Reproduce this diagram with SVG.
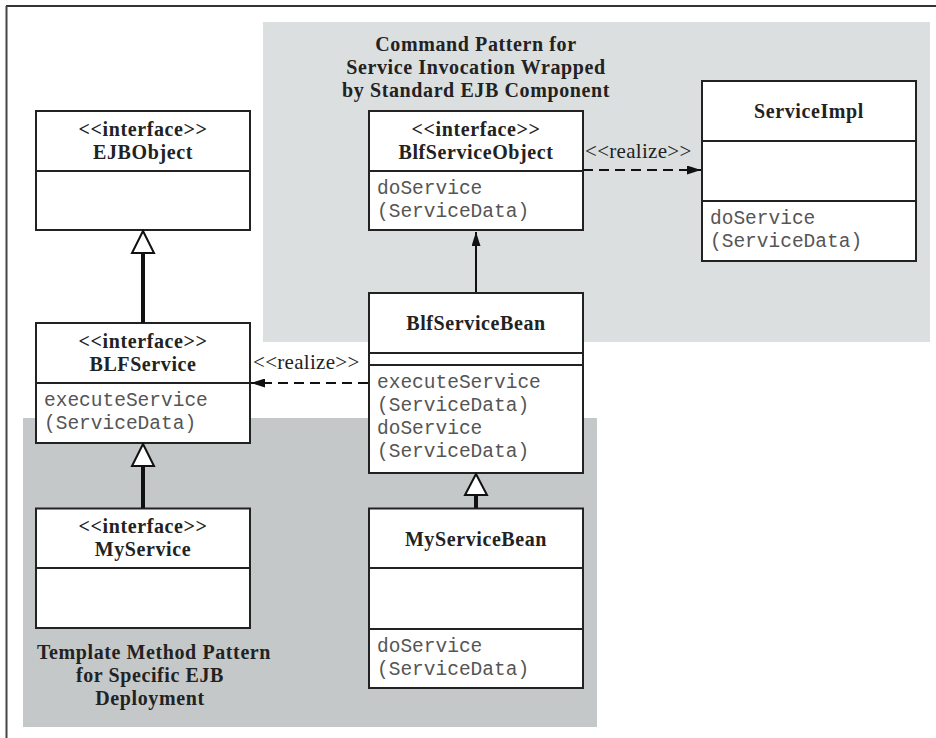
<svg xmlns="http://www.w3.org/2000/svg" width="936" height="738" viewBox="0 0 936 738">
<defs>
<style>
.box{fill:#fff;stroke:#222;stroke-width:2}
.div{stroke:#222;stroke-width:2}
.b{font-family:"Liberation Serif","Times New Roman",serif;font-weight:bold;font-size:20px;letter-spacing:0.6px;fill:#222;text-anchor:middle}
.m{font-family:"Liberation Mono","Courier New",monospace;font-size:19.5px;fill:#555}
.lbl{font-family:"Liberation Serif","Times New Roman",serif;font-size:21px;letter-spacing:0.3px;fill:#222}
.dash{stroke:#111;stroke-width:2.2;stroke-dasharray:10 6;fill:none}
.solid{stroke:#111;stroke-width:2;fill:none}
.thick{stroke:#111;stroke-width:4;fill:none}
.tri{fill:#fff;stroke:#111;stroke-width:2}
</style>
<marker id="ah" viewBox="0 0 14 9" refX="14" refY="4.5" markerWidth="14" markerHeight="9" markerUnits="userSpaceOnUse" orient="auto">
<path d="M0,0 L14,4.5 L0,9 Z" fill="#111"/>
</marker>
</defs>
<rect width="936" height="738" fill="#fff"/>
<g id="frame">
<line x1="6" y1="6" x2="936" y2="6" stroke="#333" stroke-width="2"/>
<line x1="6.5" y1="6" x2="6.5" y2="738" stroke="#444" stroke-width="2"/>
</g>
<g id="region-command">
<rect x="263" y="22" width="667" height="320" fill="#dcdfe0"/>
<text class="b" x="476" y="51">Command Pattern for</text>
<text class="b" x="476" y="74">Service Invocation Wrapped</text>
<text class="b" x="476" y="97">by Standard EJB Component</text>
</g>
<g id="region-template">
<rect x="23" y="418" width="574" height="309" fill="#c5c8c9"/>
<text class="b" x="154" y="659">Template Method Pattern</text>
<text class="b" x="150" y="682">for Specific EJB</text>
<text class="b" x="150" y="705">Deployment</text>
</g>
<g id="EJBObject">
<rect class="box" x="36" y="111" width="214" height="119"/>
<line class="div" x1="36" y1="171" x2="250" y2="171"/>
<text class="b" x="143" y="136">&lt;&lt;interface&gt;&gt;</text>
<text class="b" x="143" y="159">EJBObject</text>
</g>
<g id="BlfServiceObject">
<rect class="box" x="369" y="111" width="214" height="119"/>
<line class="div" x1="369" y1="171" x2="583" y2="171"/>
<text class="b" x="476" y="136">&lt;&lt;interface&gt;&gt;</text>
<text class="b" x="476" y="159">BlfServiceObject</text>
<text class="m" x="377" y="194">doService</text>
<text class="m" x="377" y="217">(ServiceData)</text>
</g>
<g id="ServiceImpl">
<rect class="box" x="702" y="81" width="214" height="180"/>
<line class="div" x1="702" y1="141" x2="916" y2="141"/>
<line class="div" x1="702" y1="201" x2="916" y2="201"/>
<text class="b" x="809" y="118">ServiceImpl</text>
<text class="m" x="710" y="224">doService</text>
<text class="m" x="710" y="247">(ServiceData)</text>
</g>
<g id="BLFService">
<rect class="box" x="36" y="323" width="214" height="120"/>
<line class="div" x1="36" y1="383" x2="250" y2="383"/>
<text class="b" x="143" y="348">&lt;&lt;interface&gt;&gt;</text>
<text class="b" x="143" y="371">BLFService</text>
<text class="m" x="44" y="406">executeService</text>
<text class="m" x="44" y="429">(ServiceData)</text>
</g>
<g id="BlfServiceBean">
<rect class="box" x="369" y="293" width="214" height="180"/>
<line class="div" x1="369" y1="353" x2="583" y2="353"/>
<line class="div" x1="369" y1="365" x2="583" y2="365"/>
<text class="b" x="476" y="330">BlfServiceBean</text>
<text class="m" x="377" y="388">executeService</text>
<text class="m" x="377" y="411">(ServiceData)</text>
<text class="m" x="377" y="434">doService</text>
<text class="m" x="377" y="457">(ServiceData)</text>
</g>
<g id="MyService">
<rect class="box" x="36" y="508.5" width="214" height="119.5"/>
<line class="div" x1="36" y1="568" x2="250" y2="568"/>
<text class="b" x="143" y="533">&lt;&lt;interface&gt;&gt;</text>
<text class="b" x="143" y="556">MyService</text>
</g>
<g id="MyServiceBean">
<rect class="box" x="369" y="508.5" width="214" height="179.5"/>
<line class="div" x1="369" y1="568" x2="583" y2="568"/>
<line class="div" x1="369" y1="629" x2="583" y2="629"/>
<text class="b" x="476" y="546">MyServiceBean</text>
<text class="m" x="377" y="652">doService</text>
<text class="m" x="377" y="675">(ServiceData)</text>
</g>
<g id="connectors">
<line class="thick" x1="143" y1="253" x2="143" y2="323"/>
<polygon class="tri" points="143,231 154,253 132,253"/>
<line class="thick" x1="143" y1="466" x2="143" y2="508"/>
<polygon class="tri" points="143,444 154,466 132,466"/>
<line class="thick" x1="476" y1="495" x2="476" y2="508"/>
<polygon class="tri" points="476,474 487,495 465,495"/>
<line class="solid" x1="476" y1="292" x2="476" y2="232" marker-end="url(#ah)"/>
<line class="dash" x1="583" y1="170" x2="701" y2="170" marker-end="url(#ah)"/>
<text class="lbl" x="585" y="158">&lt;&lt;realize&gt;&gt;</text>
<line class="dash" x1="368" y1="383" x2="251" y2="383" marker-end="url(#ah)"/>
<text class="lbl" x="253" y="369">&lt;&lt;realize&gt;&gt;</text>
</g>
</svg>
